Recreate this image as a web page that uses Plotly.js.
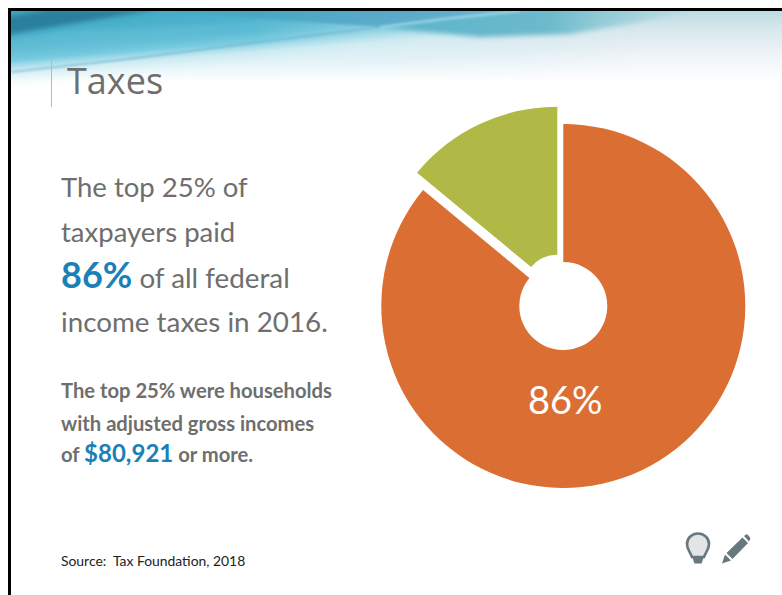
<!DOCTYPE html>
<html>
<head>
<meta charset="utf-8">
<script src="https://cdn.plot.ly/plotly-3.0.1.min.js"></script>
<style>
html,body{margin:0;padding:0;background:#fff;overflow:hidden}
#chart{width:782px;height:595px}
</style>
</head>
<body>
<div id="chart"></div>
<script>
// Share of federal income taxes paid, 2016
const categories = ['Top 25% of taxpayers', 'Bottom 75% of taxpayers'];
const shares = [86, 14];
const sliceColors = ['#DB6E33', '#B0B846'];

const W = 782, H = 595;
const GREY = '#6E6E6E', BLUE = '#1A80B6', BODY = 'Lato, Carlito, sans-serif';

// Slide furniture: banner, frame, title rule and the two small icons
const slideArt = `<svg xmlns="http://www.w3.org/2000/svg" width="${W}" height="${H}" viewBox="0 0 ${W} ${H}">
<defs>
<linearGradient id="base" gradientUnits="userSpaceOnUse" x1="0" y1="11" x2="0" y2="82">
 <stop offset="0" stop-color="#bcdce3"/><stop offset="0.3" stop-color="#dbe9ee"/>
 <stop offset="0.6" stop-color="#eef3f7"/><stop offset="1" stop-color="#ffffff"/>
</linearGradient>
<linearGradient id="haze" gradientUnits="userSpaceOnUse" x1="0" y1="28" x2="0" y2="82">
 <stop offset="0" stop-color="#a9dde8"/><stop offset="0.48" stop-color="#cfeaf1"/>
 <stop offset="0.74" stop-color="#e9f6f9"/><stop offset="1" stop-color="#ffffff"/>
</linearGradient>
<linearGradient id="sky" gradientUnits="userSpaceOnUse" x1="0" y1="10" x2="0" y2="92">
 <stop offset="0" stop-color="#3ea7c1"/><stop offset="0.46" stop-color="#52b5d0"/>
 <stop offset="0.63" stop-color="#79cce0"/><stop offset="0.76" stop-color="#c8eaf1" stop-opacity="0.8"/>
 <stop offset="1" stop-color="#ffffff" stop-opacity="0"/>
</linearGradient>
<linearGradient id="across" gradientUnits="userSpaceOnUse" x1="0" y1="0" x2="640" y2="0">
 <stop offset="0.4" stop-color="#fff"/><stop offset="1" stop-color="#000"/>
</linearGradient>
<mask id="skyMask"><rect x="0" y="0" width="${W}" height="120" fill="url(#across)"/></mask>
<linearGradient id="band" x1="0" y1="0" x2="1" y2="0">
 <stop offset="0" stop-color="#45a6bc"/><stop offset="0.7" stop-color="#4f9fc6"/><stop offset="1" stop-color="#5aa9c8"/>
</linearGradient>
<linearGradient id="low" gradientUnits="userSpaceOnUse" x1="380" y1="0" x2="720" y2="0">
 <stop offset="0" stop-color="#5ab3ca"/><stop offset="0.5" stop-color="#6dbacb"/><stop offset="1" stop-color="#a9d6de" stop-opacity="0.1"/>
</linearGradient>
<filter id="soft" x="-5%" y="-30%" width="110%" height="160%"><feGaussianBlur stdDeviation="2.5"/></filter>
<filter id="softer" x="-5%" y="-30%" width="110%" height="160%"><feGaussianBlur stdDeviation="0.8"/></filter>
<clipPath id="bannerClip"><rect x="11" y="11" width="771" height="90"/></clipPath>
</defs>
<g clip-path="url(#bannerClip)">
 <rect x="11" y="11" width="771" height="72" fill="url(#base)"/>
 <g mask="url(#skyMask)">
  <rect x="11" y="28" width="771" height="54" fill="url(#haze)"/>
  <rect x="-10" y="-80" width="800" height="172" fill="url(#sky)" transform="matrix(1,-0.08,0,1,0,0)"/>
 </g>
 <polygon points="0,60 110,46 240,30 380,27 260,22 60,32 0,42" fill="#6fc6da" opacity="0.4" filter="url(#soft)"/>
 <polygon points="0,36 70,24 160,9 50,9 0,18" fill="#2b7f9e" filter="url(#soft)"/>
 <polygon points="150,9 530,9 380,27 270,19" fill="url(#band)" opacity="0.7" filter="url(#softer)"/>
 <polygon points="380,27 450,18 530,8 700,8 640,22 570,34 480,37" fill="url(#low)" filter="url(#soft)"/>
 <polyline points="11,72 120,60 260,42 380,27" fill="none" stroke="#6fb0cc" stroke-width="1.5" opacity="0.8" filter="url(#softer)"/>
 <polyline points="380,27 450,18 520,11" fill="none" stroke="#a5dcec" stroke-width="1.6" filter="url(#softer)"/>
</g>
<rect x="8" y="8" width="774" height="3" fill="#000"/>
<rect x="8" y="8" width="3" height="587" fill="#000"/>
<rect x="51" y="55" width="1" height="52" fill="#86ccd4"/>
<path d="M692,557 C690,551 687,550 687,544 A11,10.5 0 1 1 709,544 C709,550 706,551 704,557 Z" fill="#e3e5e6" stroke="#68787f" stroke-width="2.6"/>
<path d="M692.5,558 H703.5 L701.5,563.5 H694.5 Z" fill="#68787f"/>
<path d="M722,563.5 L725,554.5 L731,560.5 Z M726.5,553 L742.5,537.5 L748,543 L732.5,559 Z M744,536 L746,534.5 Q747,534 748,535 L750,537.5 Q750.5,538.5 750,539.5 L749,541.5 Z" fill="#68787f"/>
</svg>`;

// Text placed by pixel position on the page
function label(x, y, text, size, color, extra) {
  return Object.assign({
    xref: 'paper', yref: 'paper', x: x / W, y: 1 - y / H,
    xanchor: 'left', yanchor: 'middle', showarrow: false, align: 'left', borderpad: 0,
    text: text, font: {family: BODY, size: size, color: color}
  }, extra || {});
}
const accent = (t, size) => `<b><span style="color:${BLUE};font-size:${size}px">${t}</span></b>`;

const annotations = [
  label(66, 81, 'Taxes', 36, GREY, {font: {family: 'Open Sans, sans-serif', size: 36, color: GREY}}),
  label(60, 186, 'The top 25% of', 27.5, GREY),
  label(60, 232, 'taxpayers paid', 27.5, GREY),
  label(60, 274, `${accent(shares[0] + '%', 36)} of all federal`, 27.8, GREY),
  label(60, 321, 'income taxes in 2016.', 27.8, GREY),
  label(60, 390, '<b>The top 25% were households</b>', 20.2, GREY),
  label(60, 423, '<b>with adjusted gross incomes</b>', 20.2, GREY),
  label(60, 452, `<b>of </b>${accent('$80,921', 24)}<b> or more.</b>`, 20.2, GREY),
  label(60, 560, 'Source:  Tax Foundation, 2018', 13.9, '#222222'),
  label(565.5, 399, shares[0] + '%', 38, '#FFFFFF', {xanchor: 'center'})
];

// Each pie shows one slice; the wedge sits on its own centre, pushed out of the main ring
const R = 182;
function domainAt(cx, cy) {
  return {x: [(cx - R) / W, (cx + R) / W], y: [1 - (cy + R) / H, 1 - (cy - R) / H]};
}
function slicePie(visibleIndex, centre, innerRadius) {
  return {
    type: 'pie', labels: categories, values: shares,
    marker: {
      colors: sliceColors.map((c, i) => i === visibleIndex ? c : 'rgba(0,0,0,0)'),
      line: {width: 0}
    },
    hole: innerRadius / R, sort: false, direction: 'clockwise', rotation: 0,
    textinfo: 'none', hoverinfo: 'label+percent', showlegend: false,
    domain: domainAt(centre[0], centre[1])
  };
}
const traces = [
  slicePie(0, [563.3, 306], 44),
  slicePie(1, [557.3, 288.7], 34)
];

const layout = {
  width: W, height: H, margin: {l: 0, r: 0, t: 0, b: 0, pad: 0},
  paper_bgcolor: '#FFFFFF', showlegend: false, annotations: annotations,
  images: [{
    source: 'data:image/svg+xml;charset=utf-8,' + encodeURIComponent(slideArt),
    xref: 'paper', yref: 'paper', x: 0, y: 1, sizex: 1, sizey: 1,
    xanchor: 'left', yanchor: 'top', sizing: 'stretch', layer: 'below'
  }]
};

Plotly.newPlot('chart', traces, layout, {displayModeBar: false});
</script>
</body>
</html>
